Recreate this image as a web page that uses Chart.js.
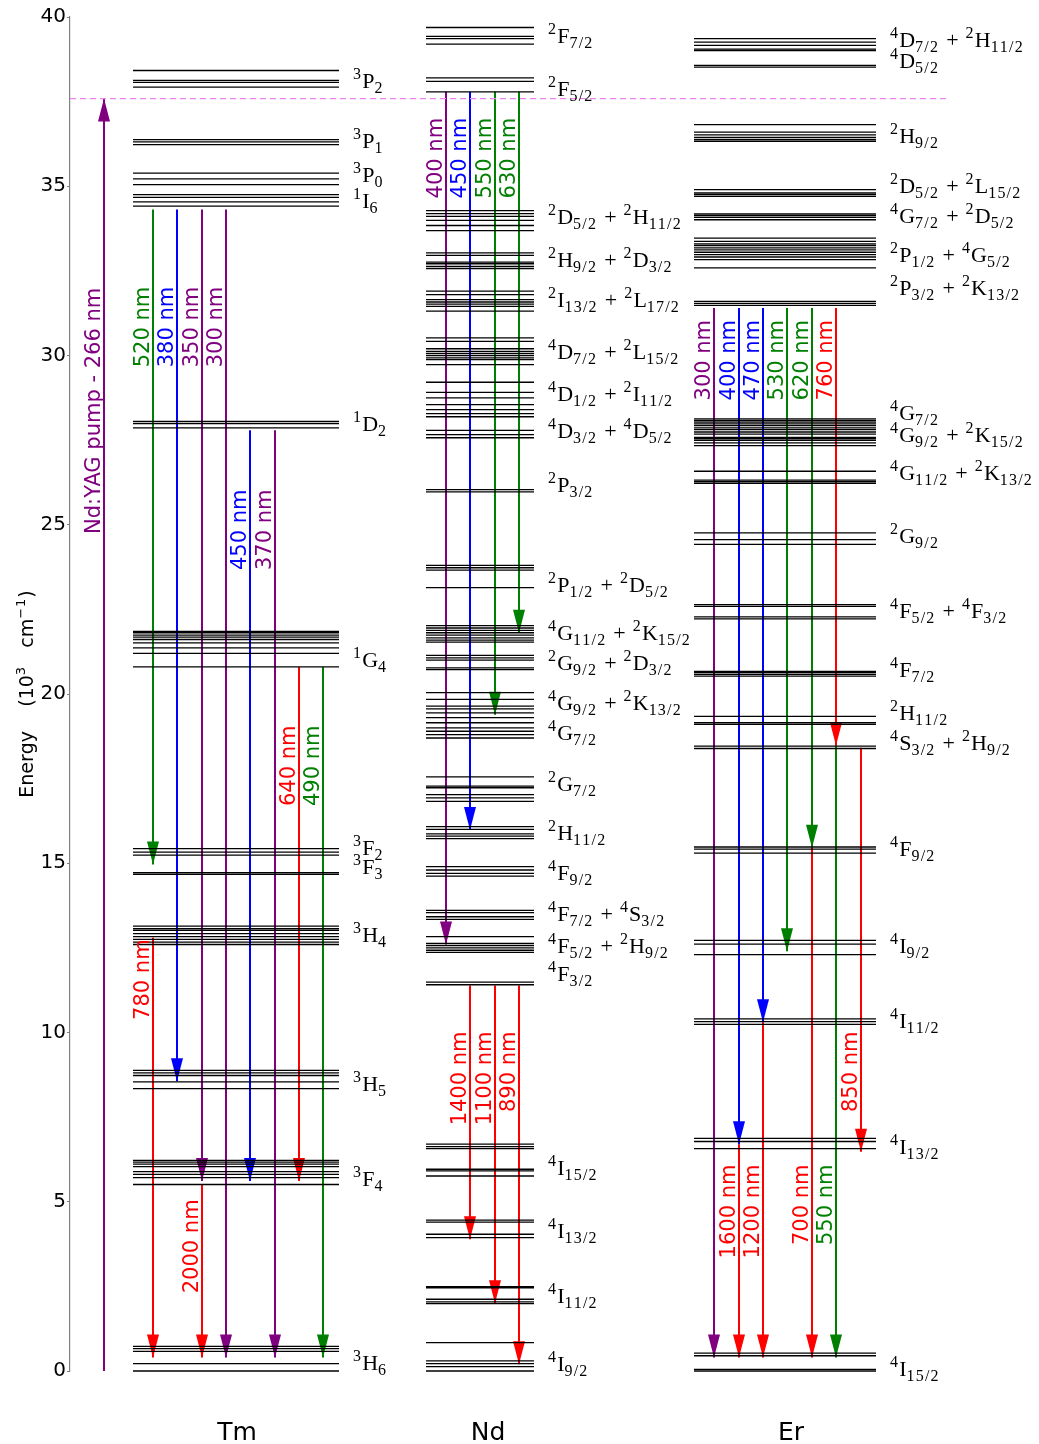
<!DOCTYPE html>
<html>
<head>
<meta charset="utf-8">
<script src="https://cdn.jsdelivr.net/npm/chart.js@4.4.0/dist/chart.umd.min.js"></script>
<style>
  body { margin: 0; background: #fff; }
</style>
</head>
<body>
<canvas id="chart" width="1039" height="1444"></canvas>
<script>
var ions = ['Tm', 'Nd', 'Er'];

// Stark sublevels of each manifold, in 10^3 cm^-1
var tmTerms = ['^3P_2', '^3P_1', '^3P_0', '^1I_6', '^1D_2', '^1G_4', '^3F_2', '^3F_3', '^3H_4', '^3H_5', '^3F_4', '^3H_6'];
var tmTermAt = [38.11, 36.34, 35.32, 34.55, 27.99, 20.99, 15.46, 14.90, 12.87, 8.49, 5.68, 0.25];
var tmLevels = [
  [38.42, 38.13, 38.07, 37.93],
  [36.38, 36.31, 36.23],
  [35.39, 35.22, 35.05],
  [34.75, 34.67, 34.54, 34.41],
  [28.05, 27.99, 27.86],
  [21.85, 21.81, 21.74, 21.68, 21.61, 21.51, 21.36, 21.20, 20.80],
  [15.43, 15.33, 15.24],
  [14.72, 14.67],
  [13.14, 13.07, 13.02, 12.92, 12.83, 12.75, 12.67, 12.60],
  [8.88, 8.81, 8.73, 8.54, 8.34],
  [6.22, 6.17, 6.11, 6.04, 5.89, 5.81, 5.71, 5.51],
  [0.73, 0.66, 0.58, 0.22, 0.0]
];

var ndTerms = ['^2F_{7/2}', '^2F_{5/2}', '^2D_{5/2}+^2H_{11/2}', '^2H_{9/2}+^2D_{3/2}', '^2I_{13/2}+^2L_{17/2}',
  '^4D_{7/2}+^2L_{15/2}', '^4D_{1/2}+^2I_{11/2}', '^4D_{3/2}+^4D_{5/2}', '^2P_{3/2}', '^2P_{1/2}+^2D_{5/2}',
  '^4G_{11/2}+^2K_{15/2}', '^2G_{9/2}+^2D_{3/2}', '^4G_{9/2}+^2K_{13/2}', '^4G_{7/2}', '^2G_{7/2}', '^2H_{11/2}',
  '^4F_{9/2}', '^4F_{7/2}+^4S_{3/2}', '^4F_{5/2}+^2H_{9/2}', '^4F_{3/2}', '^4I_{15/2}', '^4I_{13/2}', '^4I_{11/2}', '^4I_{9/2}'];
var ndTermAt = [39.43, 37.88, 34.09, 32.81, 31.65, 30.10, 28.85, 27.78, 26.16, 23.23, 21.81, 20.92, 19.74, 18.86,
  17.33, 15.90, 14.72, 13.49, 12.55, 11.74, 6.01, 4.13, 2.21, 0.20];
var ndLevels = [
  [39.69, 39.43, 39.36, 39.20],
  [38.20, 38.10, 37.79],
  [34.28, 34.19, 34.11, 33.99, 33.84, 33.69],
  [33.03, 32.96, 32.76, 32.71, 32.63, 32.57],
  [31.90, 31.80, 31.65, 31.58, 31.52, 31.45, 31.31],
  [30.52, 30.42, 30.20, 30.12, 30.06, 30.00, 29.93, 29.88, 29.73],
  [29.21, 28.91, 28.75, 28.55, 28.40, 28.28, 28.19],
  [27.79, 27.66, 27.57],
  [26.04, 25.97],
  [23.80, 23.73, 23.66, 23.14],
  [22.02, 21.95, 21.88, 21.81, 21.74, 21.66, 21.59, 21.53],
  [21.14, 21.07, 21.00, 20.77, 20.72],
  [20.04, 19.84, 19.64, 19.56, 19.44, 19.30, 19.15, 19.00],
  [18.90, 18.80, 18.70],
  [17.55, 17.28, 17.23, 17.03, 16.93, 16.83],
  [16.08, 16.00, 15.87, 15.80, 15.73],
  [14.90, 14.80, 14.70, 14.62],
  [13.61, 13.54, 13.42, 13.34],
  [12.83, 12.63, 12.57, 12.50, 12.43, 12.37],
  [11.49, 11.41],
  [6.70, 6.63, 6.57, 5.96, 5.91, 5.76],
  [4.46, 4.40, 4.04, 3.94],
  [2.49, 2.46, 2.12, 2.04, 1.99],
  [0.84, 0.30, 0.22, 0.13, 0.0]
];

var erTerms = ['^4D_{7/2}+^2H_{11/2}', '^4D_{5/2}', '^2H_{9/2}', '^2D_{5/2}+^2L_{15/2}', '^4G_{7/2}+^2D_{5/2}',
  '^2P_{1/2}+^4G_{5/2}', '^2P_{3/2}+^2K_{13/2}', '^4G_{7/2}', '^4G_{9/2}+^2K_{15/2}', '^4G_{11/2}+^2K_{13/2}',
  '^2G_{9/2}', '^4F_{5/2}+^4F_{3/2}', '^4F_{7/2}', '^2H_{11/2}', '^4S_{3/2}+^2H_{9/2}', '^4F_{9/2}',
  '^4I_{9/2}', '^4I_{11/2}', '^4I_{13/2}', '^4I_{15/2}'];
var erTermAt = [39.33, 38.69, 36.47, 35.00, 34.11, 32.98, 32.00, 28.30, 27.66, 26.53, 24.66, 22.45, 20.72,
  19.44, 18.56, 15.41, 12.57, 10.33, 6.61, 0.05];
var erLevels = [
  [39.36, 39.26, 39.16, 39.05, 39.01],
  [38.57, 38.52],
  [36.82, 36.60, 36.52, 36.44, 36.38, 36.33],
  [34.90, 34.80, 34.75, 34.70],
  [34.18, 34.13, 34.08, 34.01],
  [33.47, 33.37, 33.30, 33.25, 33.18, 33.12, 33.05, 32.98, 32.91, 32.83, 32.59],
  [31.60, 31.54, 31.48],
  [28.13, 28.08, 28.03, 27.98, 27.93],
  [27.86, 27.81, 27.74, 27.68, 27.58, 27.54, 27.49, 27.42, 27.34],
  [26.58, 26.32, 26.27, 26.22],
  [24.76, 24.56, 24.42],
  [22.64, 22.59, 22.28, 22.22],
  [20.67, 20.63, 20.58, 20.53],
  [19.34, 19.15, 19.10],
  [18.46, 18.39],
  [15.48, 15.42, 15.30],
  [12.72, 12.61, 12.30],
  [10.40, 10.32, 10.24],
  [6.87, 6.78, 6.57],
  [0.53, 0.45, 0.05, 0.0]
];

// emission lines: upper level, lower level, wavelength (nm)
var tmFrom = [34.31, 34.31, 34.31, 34.31, 27.79, 27.79, 20.80, 20.80, 12.80, 5.51];
var tmTo = [14.96, 8.56, 5.61, 0.40, 5.61, 0.40, 5.61, 0.40, 0.40, 0.40];
var tmNm = [520, 380, 350, 300, 450, 370, 640, 490, 780, 2000];

var ndFrom = [37.79, 37.79, 37.79, 37.79, 11.39, 11.39, 11.39];
var ndTo = [12.60, 15.98, 19.39, 21.81, 3.89, 2.00, 0.20];
var ndNm = [400, 450, 550, 630, 1400, 1100, 890];

var erFrom = [31.40, 31.40, 31.40, 31.40, 31.40, 31.40, 6.70, 10.30, 15.46, 18.48, 18.41];
var erTo = [0.40, 6.70, 10.30, 12.40, 15.46, 18.48, 0.40, 0.40, 0.40, 0.40, 6.48];
var erNm = [300, 400, 470, 530, 620, 760, 1600, 1200, 700, 550, 850];

var pumpNm = 266;
var pumpEnergy = 37.59;

// layout: x in plot units (0..877), where ladders and arrows sit
var ionCentres = [167, 418, 721];
var ladders = [[63, 269], [356, 464], [624, 806]];
var tmLanes = [83, 107, 132, 156, 180, 205, 229, 253, 83, 132];
var ndLanes = [376, 400, 425, 449, 400, 425, 449];
var erLanes = [644, 669, 693, 717, 742, 766, 669, 693, 742, 766, 791];
var pumpLane = 34;

// energy at which each wavelength label ends (top of the rotated text)
var tmTextTop = [32.03, 32.03, 32.03, 32.03, 26.04, 26.04, 19.07, 19.07, 12.75, 5.07];
var ndTextTop = [37.02, 37.02, 37.02, 37.02, 10.03, 10.03, 10.03];
var erTextTop = [31.05, 31.05, 31.05, 31.05, 31.05, 31.05, 6.10, 6.10, 6.10, 6.10, 10.03];
var pumpTextTop = 32.0;

var C = { p: '#800080', b: '#0000ff', g: '#008000', r: '#ff0000' };
var tmColours = ['g', 'b', 'p', 'p', 'b', 'p', 'r', 'g', 'r', 'r'];
var ndColours = ['p', 'b', 'g', 'g', 'r', 'r', 'r'];
var erColours = ['p', 'b', 'b', 'g', 'g', 'r', 'r', 'r', 'r', 'g', 'r'];

var datasets = [];

function addLevels(levels, ladder) {
  levels.forEach(function (group) {
    group.forEach(function (e) {
      datasets.push({
        data: [{ x: ladder[0], y: e }, { x: ladder[1], y: e }],
        showLine: true, pointRadius: 0, borderWidth: 1.3,
        borderColor: '#000', order: 0, clip: false
      });
    });
  });
}

function addArrows(from, to, nm, lanes, tops, colours) {
  from.forEach(function (e, i) {
    datasets.push({
      data: [{ x: lanes[i], y: e }, { x: lanes[i], y: to[i] }],
      showLine: true, pointRadius: 0, borderWidth: 2,
      borderColor: C[colours[i]], order: 2, clip: false,
      arrow: { colour: C[colours[i]], text: nm[i] + ' nm', top: tops[i] }
    });
  });
}

addLevels(tmLevels, ladders[0]);
addLevels(ndLevels, ladders[1]);
addLevels(erLevels, ladders[2]);
addArrows(tmFrom, tmTo, tmNm, tmLanes, tmTextTop, tmColours);
addArrows(ndFrom, ndTo, ndNm, ndLanes, ndTextTop, ndColours);
addArrows(erFrom, erTo, erNm, erLanes, erTextTop, erColours);

// pump line and its photon energy
datasets.push({
  data: [{ x: pumpLane, y: 0 }, { x: pumpLane, y: pumpEnergy }],
  showLine: true, pointRadius: 0, borderWidth: 2, borderColor: C.p, order: 2,
  arrow: { colour: C.p, text: 'Nd:YAG pump - ' + pumpNm + ' nm', top: pumpTextTop }
});
datasets.push({
  data: [{ x: 0, y: pumpEnergy }, { x: 877, y: pumpEnergy }],
  showLine: true, pointRadius: 0, borderWidth: 1.3, borderColor: '#ee82ee',
  borderDash: [6, 4], order: 1
});

// text with ^sup and _sub pieces, drawn left to right
function richText(ctx, str, x, y, o) {
  var cx = x, i = 0;
  while (i < str.length) {
    var c = str[i], txt, size = o.main, dy = 0, gap = 0;
    if (c === '^' || c === '_') {
      if (str[i + 1] === '{') {
        var j = str.indexOf('}', i);
        txt = str.slice(i + 2, j);
        i = j + 1;
      } else {
        txt = str[i + 1];
        i += 2;
      }
      size = o.small;
      dy = c === '^' ? -o.up : o.down;
    } else {
      txt = c;
      i++;
      if (c === '+') gap = o.plusGap;
    }
    ctx.font = size + 'px ' + o.family;
    cx += gap;
    for (var k = 0; k < txt.length; k++) {
      ctx.fillText(txt[k], cx, y + dy);
      cx += ctx.measureText(txt[k]).width + (size === o.small ? o.tight : 0);
    }
    cx += gap;
  }
  return cx - x;
}

var termFont = { family: '"Liberation Serif", serif', main: 22, small: 16, up: 9, down: 5, plusGap: 7, tight: 1.2 };
var titleFont = { family: '"DejaVu Sans", sans-serif', main: 19, small: 13, up: 8, down: 0, plusGap: 0, tight: 1 };

var decorations = {
  id: 'decorations',
  beforeDatasetsDraw: function (chart) {
    var ctx = chart.ctx, xs = chart.scales.x, ys = chart.scales.y;
    chart.data.datasets.forEach(function (ds) {
      if (!ds.arrow) return;
      var x = xs.getPixelForValue(ds.data[1].x);
      var y0 = ys.getPixelForValue(ds.data[0].y);
      var y1 = ys.getPixelForValue(ds.data[1].y);
      var dir = y1 > y0 ? 1 : -1;
      ctx.save();
      ctx.fillStyle = ds.arrow.colour;
      ctx.beginPath();
      ctx.moveTo(x, y1);
      ctx.lineTo(x - 6, y1 - dir * 23);
      ctx.lineTo(x + 6, y1 - dir * 23);
      ctx.closePath();
      ctx.fill();
      ctx.restore();
    });
  },
  afterDatasetsDraw: function (chart) {
    var ctx = chart.ctx, xs = chart.scales.x, ys = chart.scales.y;
    ctx.save();
    // wavelength labels along the arrows
    ctx.font = '21px "DejaVu Sans", sans-serif';
    ctx.textAlign = 'right';
    ctx.textBaseline = 'alphabetic';
    chart.data.datasets.forEach(function (ds) {
      if (!ds.arrow) return;
      ctx.save();
      ctx.fillStyle = ds.arrow.colour;
      ctx.translate(xs.getPixelForValue(ds.data[0].x) - 4, ys.getPixelForValue(ds.arrow.top));
      ctx.rotate(-Math.PI / 2);
      ctx.fillText(ds.arrow.text, 0, 0);
      ctx.restore();
    });
    // term symbols to the right of each ladder
    ctx.textAlign = 'left';
    ctx.fillStyle = '#000';
    [[tmTerms, tmTermAt], [ndTerms, ndTermAt], [erTerms, erTermAt]].forEach(function (set, n) {
      var x = xs.getPixelForValue(ladders[n][1]) + 14;
      set[0].forEach(function (t, i) {
        richText(ctx, t, x, ys.getPixelForValue(set[1][i]) + 7, termFont);
      });
    });
    // y axis title
    var title = 'Energy    (10^3   cm^{\u22121})';
    ctx.save();
    ctx.translate(33, (chart.chartArea.top + chart.chartArea.bottom) / 2);
    ctx.rotate(-Math.PI / 2);
    var w = richText(ctx, title, 0, -1000, titleFont);
    richText(ctx, title, -w / 2, 0, titleFont);
    ctx.restore();
    ctx.restore();
  }
};

var ctx = document.getElementById('chart').getContext('2d');
var chart = new Chart(ctx, {
  type: 'scatter',
  data: { datasets: datasets },
  options: {
    responsive: false,
    animation: false,
    events: [],
    layout: { padding: { top: 17, right: 92, left: 0, bottom: 0 } },
    plugins: { legend: { display: false }, tooltip: { enabled: false } },
    scales: {
      x: {
        type: 'linear', min: 0, max: 877,
        afterBuildTicks: function (s) {
          s.ticks = ionCentres.map(function (v) { return { value: v }; });
        },
        afterFit: function (s) { s.height = 73; },
        grid: { display: false, drawTicks: false },
        border: { display: false },
        ticks: {
          autoSkip: false, maxRotation: 0, padding: 47, color: '#000',
          font: { family: '"DejaVu Sans", sans-serif', size: 25 },
          callback: function (v, i) { return ions[i]; }
        }
      },
      y: {
        min: 0, max: 40,
        afterFit: function (s) { s.width = 70; },
        ticks: {
          stepSize: 5, padding: 1, color: '#000',
          font: { family: '"DejaVu Sans", sans-serif', size: 20 }
        },
        grid: { drawOnChartArea: false, tickLength: 3, color: '#808080' },
        border: { color: '#808080', width: 1.2 }
      }
    }
  },
  plugins: [decorations]
});
</script>
</body>
</html>
